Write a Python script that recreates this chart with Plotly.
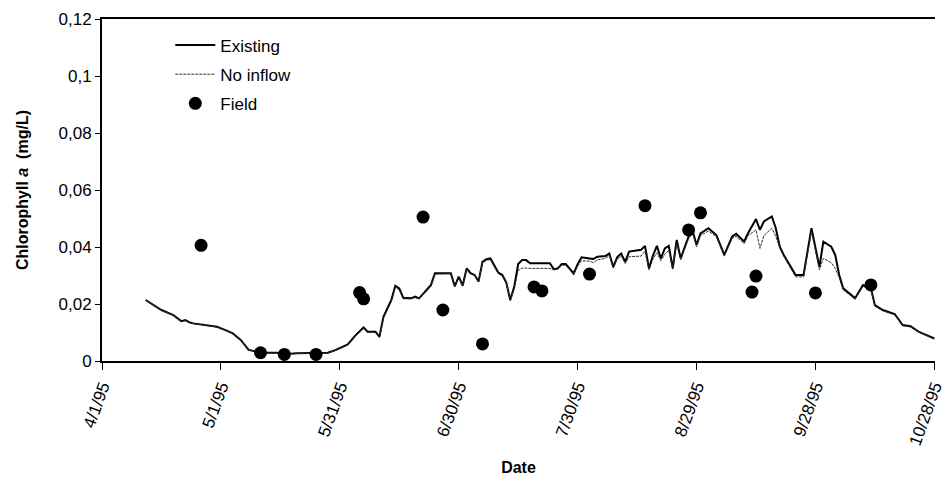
import plotly.graph_objects as go

# Simulation output dates (vertices)
sim_dates = [
    "1995-04-12", "1995-04-14", "1995-04-16", "1995-04-19", "1995-04-21", "1995-04-22",
    "1995-04-23", "1995-04-24", "1995-04-27", "1995-04-30", "1995-05-02", "1995-05-04",
    "1995-05-06", "1995-05-08", "1995-05-10", "1995-05-13", "1995-05-15", "1995-05-18",
    "1995-05-20", "1995-05-23", "1995-05-25", "1995-05-28", "1995-05-30", "1995-06-02",
    "1995-06-04", "1995-06-06", "1995-06-07", "1995-06-09", "1995-06-10", "1995-06-11",
    "1995-06-13", "1995-06-14", "1995-06-15", "1995-06-16", "1995-06-18", "1995-06-19",
    "1995-06-20", "1995-06-22", "1995-06-23", "1995-06-24", "1995-06-26", "1995-06-28",
    "1995-06-29", "1995-06-30", "1995-07-01", "1995-07-02", "1995-07-03", "1995-07-04",
    "1995-07-05", "1995-07-06", "1995-07-07", "1995-07-08", "1995-07-09", "1995-07-10",
    "1995-07-11", "1995-07-12", "1995-07-13", "1995-07-14", "1995-07-15", "1995-07-16",
    "1995-07-17", "1995-07-18", "1995-07-23", "1995-07-24", "1995-07-25", "1995-07-26",
    "1995-07-27", "1995-07-28", "1995-07-29", "1995-07-30", "1995-07-31", "1995-08-02",
    "1995-08-03", "1995-08-04", "1995-08-06", "1995-08-07", "1995-08-08", "1995-08-09",
    "1995-08-10", "1995-08-11", "1995-08-12", "1995-08-15", "1995-08-16", "1995-08-17",
    "1995-08-18", "1995-08-19", "1995-08-20", "1995-08-21", "1995-08-22", "1995-08-23",
    "1995-08-24", "1995-08-25", "1995-08-27", "1995-08-28", "1995-08-29", "1995-08-30",
    "1995-09-01", "1995-09-03", "1995-09-05", "1995-09-07", "1995-09-08", "1995-09-10",
    "1995-09-11", "1995-09-13", "1995-09-14", "1995-09-15", "1995-09-17", "1995-09-18",
    "1995-09-19", "1995-09-20", "1995-09-22", "1995-09-23", "1995-09-25", "1995-09-26",
    "1995-09-27", "1995-09-29", "1995-09-30", "1995-10-02", "1995-10-03", "1995-10-04",
    "1995-10-05", "1995-10-07", "1995-10-08", "1995-10-10", "1995-10-12", "1995-10-13",
    "1995-10-15", "1995-10-18", "1995-10-20", "1995-10-22", "1995-10-24", "1995-10-25",
    "1995-10-27", "1995-10-28",
]

existing = [
    0.0214, 0.0196, 0.0179, 0.0161, 0.0140, 0.0144,
    0.0136, 0.0132, 0.0126, 0.0120, 0.0109, 0.0097,
    0.0074, 0.0039, 0.0033, 0.0029, 0.0029, 0.0025,
    0.0027, 0.0027, 0.0027, 0.0029, 0.0039, 0.0058,
    0.0091, 0.0118, 0.0103, 0.0103, 0.0085, 0.0155,
    0.0214, 0.0264, 0.0255, 0.0222, 0.0220, 0.0226,
    0.0220, 0.0249, 0.0267, 0.0308, 0.0308, 0.0308,
    0.0262, 0.0296, 0.0265, 0.0325, 0.0308, 0.0302,
    0.0279, 0.0348, 0.0357, 0.0360, 0.0335, 0.0310,
    0.0302, 0.0275, 0.0214, 0.0260, 0.0340, 0.0354,
    0.0354, 0.0343, 0.0343, 0.0322, 0.0325, 0.0340,
    0.0340, 0.0325, 0.0307, 0.0340, 0.0364, 0.0360,
    0.0358, 0.0366, 0.0368, 0.0377, 0.0330, 0.0365,
    0.0377, 0.0348, 0.0384, 0.0390, 0.0404, 0.0325,
    0.0370, 0.0404, 0.0360, 0.0395, 0.0404, 0.0325,
    0.0425, 0.0360, 0.0437, 0.0458, 0.0407, 0.0448,
    0.0466, 0.0442, 0.0372, 0.0437, 0.0446, 0.0419,
    0.0448, 0.0498, 0.0460, 0.0490, 0.0507, 0.0466,
    0.0401, 0.0372, 0.0325, 0.0302, 0.0302, 0.0377,
    0.0466, 0.0330, 0.0419, 0.0401, 0.0372, 0.0302,
    0.0255, 0.0232, 0.0220, 0.0267, 0.0255, 0.0196,
    0.0179, 0.0165, 0.0126, 0.0122, 0.0103, 0.0097,
    0.0085, 0.0079,
]

no_inflow = [
    0.0213, 0.0195, 0.0178, 0.0160, 0.0139, 0.0141,
    0.0135, 0.0131, 0.0125, 0.0119, 0.0108, 0.0096,
    0.0073, 0.0039, 0.0032, 0.0028, 0.0028, 0.0025,
    0.0026, 0.0027, 0.0026, 0.0028, 0.0037, 0.0056,
    0.0087, 0.0113, 0.0101, 0.0100, 0.0083, 0.0150,
    0.0208, 0.0258, 0.0250, 0.0218, 0.0218, 0.0222,
    0.0218, 0.0245, 0.0262, 0.0305, 0.0306, 0.0306,
    0.0260, 0.0293, 0.0262, 0.0320, 0.0305, 0.0300,
    0.0277, 0.0344, 0.0353, 0.0356, 0.0330, 0.0306,
    0.0298, 0.0272, 0.0212, 0.0255, 0.0318, 0.0326,
    0.0326, 0.0325, 0.0325, 0.0320, 0.0322, 0.0336,
    0.0336, 0.0322, 0.0305, 0.0332, 0.0352, 0.0350,
    0.0345, 0.0355, 0.0360, 0.0370, 0.0326, 0.0358,
    0.0368, 0.0342, 0.0366, 0.0368, 0.0385, 0.0320,
    0.0358, 0.0380, 0.0352, 0.0375, 0.0388, 0.0322,
    0.0412, 0.0355, 0.0430, 0.0450, 0.0400, 0.0440,
    0.0456, 0.0436, 0.0368, 0.0430, 0.0438, 0.0412,
    0.0440, 0.0460, 0.0395, 0.0440, 0.0466, 0.0437,
    0.0398, 0.0368, 0.0318, 0.0295, 0.0295, 0.0370,
    0.0455, 0.0320, 0.0360, 0.0345, 0.0325, 0.0292,
    0.0250, 0.0228, 0.0217, 0.0262, 0.0250, 0.0192,
    0.0176, 0.0162, 0.0124, 0.0119, 0.0101, 0.0095,
    0.0083, 0.0077,
]

# Field measurements
field_dates = [
    "1995-04-26", "1995-05-11", "1995-05-17", "1995-05-25", "1995-06-05", "1995-06-06",
    "1995-06-21", "1995-06-26", "1995-07-06", "1995-07-19", "1995-07-21", "1995-08-02",
    "1995-08-16", "1995-08-27", "1995-08-30", "1995-09-12", "1995-09-13", "1995-09-28",
    "1995-10-12",
]
field_values = [
    0.0406, 0.0029, 0.0023, 0.0023, 0.0240, 0.0218,
    0.0505, 0.0179, 0.0060, 0.0260, 0.0246, 0.0305,
    0.0545, 0.0460, 0.0520, 0.0242, 0.0298, 0.0239,
    0.0267,
]

x_tick_dates = ["1995-04-01", "1995-05-01", "1995-05-31", "1995-06-30",
                "1995-07-30", "1995-08-29", "1995-09-28", "1995-10-28"]
x_tick_labels = ["4/1/95", "5/1/95", "5/31/95", "6/30/95",
                 "7/30/95", "8/29/95", "9/28/95", "10/28/95"]
y_tick_vals = [0, 0.02, 0.04, 0.06, 0.08, 0.1, 0.12]
y_tick_labels = ["0", "0,02", "0,04", "0,06", "0,08", "0,1", "0,12"]

FONT = "Liberation Sans, Arial, sans-serif"

fig = go.Figure()
fig.add_trace(go.Scatter(
    x=sim_dates, y=existing, mode="lines", name="Existing", legendgroup="g1",
    line=dict(color="black", width=2),
))
fig.add_trace(go.Scatter(
    x=sim_dates, y=no_inflow, mode="lines", name="No inflow", legendgroup="g2",
    line=dict(color="#333333", width=1, dash="3px,1px"),
))
fig.add_trace(go.Scatter(
    x=field_dates, y=field_values, mode="markers", name="Field", legendgroup="g3",
    marker=dict(color="black", size=13),
))

fig.update_layout(
    width=948, height=477,
    margin=dict(l=102, r=13, t=19, b=116),
    paper_bgcolor="white", plot_bgcolor="white",
    font=dict(family=FONT, size=16, color="black"),
    showlegend=True,
    legend=dict(
        x=0.082, y=0.975, xanchor="left", yanchor="top",
        bgcolor="rgba(0,0,0,0)", font=dict(size=17, family=FONT),
        itemwidth=40, tracegroupgap=4,
    ),
    xaxis=dict(
        type="date", automargin=False,
        range=["1995-04-01", "1995-10-28 04:00"],
        tickmode="array", tickvals=x_tick_dates, ticktext=x_tick_labels,
        tickangle=-70, tickfont=dict(size=17, family=FONT),
        ticklabeloverflow="allow",
        showline=True, linecolor="black", linewidth=2, mirror=True,
        ticks="outside", ticklen=7, tickwidth=1, tickcolor="black",
        showgrid=False, zeroline=False,
        title=dict(text="<b>Date</b>", font=dict(size=16, family=FONT), standoff=14),
    ),
    yaxis=dict(
        automargin=False,
        range=[0, 0.12],
        tickmode="array", tickvals=y_tick_vals, ticktext=y_tick_labels,
        tickfont=dict(size=17, family=FONT),
        showline=True, linecolor="black", linewidth=2,
        ticks="outside", ticklen=5, tickwidth=1, tickcolor="black",
        showgrid=False, zeroline=False,
        title=dict(text="<b>Chlorophyll <i>a</i>  (mg/L)</b>",
                   font=dict(size=16, family=FONT), standoff=26),
    ),
)

fig.write_html("out.html")
